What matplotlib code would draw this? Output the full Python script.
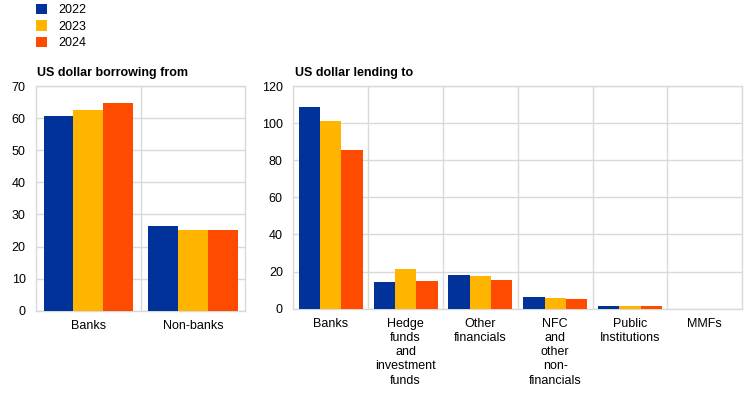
import matplotlib
matplotlib.use("Agg")
import matplotlib.pyplot as plt
import numpy as np
from matplotlib.patches import Patch

plt.rcParams['font.family'] = ['Liberation Sans', 'DejaVu Sans']

years = ["2022", "2023", "2024"]
colors = ["#003299", "#FFB400", "#FF4B00"]

borrow_cats = ["Banks", "Non-banks"]
borrow_2022 = [60.8, 26.5]
borrow_2023 = [62.4, 25.0]
borrow_2024 = [64.6, 25.2]

lend_cats = ["Banks", "Hedge\nfunds\nand\ninvestment\nfunds", "Other\nfinancials",
             "NFC\nand\nother\nnon-\nfinancials", "Public\nInstitutions", "MMFs"]
lend_2022 = [108.7, 14.6, 18.2, 6.5, 1.6, 0.0]
lend_2023 = [101.1, 21.4, 17.6, 5.9, 1.6, 0.0]
lend_2024 = [85.7, 15.1, 15.6, 5.4, 1.6, 0.0]

fig = plt.figure(figsize=(7.44, 3.94), dpi=100)
ax1 = fig.add_axes([0.0484, 0.2114, 0.2813, 0.5703])
ax2 = fig.add_axes([0.3942, 0.2165, 0.6035, 0.5652])

grid_c = "#d9d9d9"
w = 0.285
fs = 9

def draw(ax, cats, series, ymax, step):
    x = np.arange(len(cats))
    for i, (vals, c) in enumerate(zip(series, colors)):
        ax.bar(x + (i - 1) * w, vals, width=w, color=c, zorder=3, linewidth=0)
    ax.set_xlim(-0.5, len(cats) - 0.5)
    ax.set_ylim(0, ymax)
    ax.set_yticks(np.arange(0, ymax + 1, step))
    ax.set_xticks(x)
    ax.set_xticklabels(cats, fontsize=fs, linespacing=1.25, va='top')
    ax.set_xticks(np.arange(0.5, len(cats) - 0.5, 1), minor=True)
    ax.grid(True, axis='y', color=grid_c, linewidth=1, zorder=0)
    ax.grid(True, axis='x', which='minor', color=grid_c, linewidth=1, zorder=0)
    ax.tick_params(axis='both', which='both', length=0, labelsize=fs, colors='#000000')
    ax.tick_params(axis='x', pad=6.5)
    ax.tick_params(axis='y', pad=7.5)
    for s in ax.spines.values():
        s.set_color(grid_c)
        s.set_linewidth(1)

draw(ax1, borrow_cats, [borrow_2022, borrow_2023, borrow_2024], 70, 10)
draw(ax2, lend_cats, [lend_2022, lend_2023, lend_2024], 120, 20)

fig.text(0.050, 0.800, "US dollar borrowing from", fontsize=fs, fontweight='bold', va='bottom')
fig.text(0.396, 0.800, "US dollar lending to", fontsize=fs, fontweight='bold', va='bottom')

handles = [Patch(facecolor=c, edgecolor='none') for c in colors]
fig.legend(handles, years, loc='upper left', bbox_to_anchor=(0.042, 1.003), frameon=False,
           fontsize=fs, handlelength=0.9, handleheight=0.9, handletextpad=0.85,
           labelspacing=0.32, borderaxespad=0)

fig.savefig("out.png", dpi=100)
